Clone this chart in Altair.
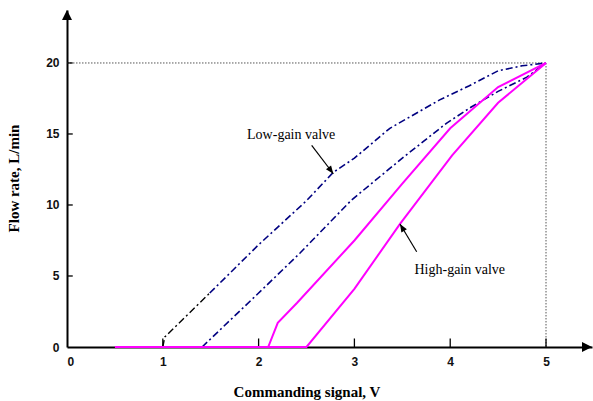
import altair as alt
import pandas as pd

# ---- data ----
x_tick_values = [0, 1, 2, 3, 4, 5]
y_tick_values = [0, 5, 10, 15, 20]
X_MAX = 5.48
Y_MAX = 23.73

# low-gain valve, upper branch (first part drawn black, rest navy)
low_up_start_x = [1.0, 1.02, 1.49]
low_up_start_y = [0.0, 0.7, 3.8]
low_up_x = [1.49, 2.0, 2.5, 2.78, 3.0, 3.37, 3.89, 4.2, 4.5, 4.75, 5.0]
low_up_y = [3.8, 7.2, 10.3, 12.3, 13.3, 15.4, 17.4, 18.4, 19.45, 19.8, 20.0]

# low-gain valve, lower branch
low_dn_x = [1.41, 2.0, 2.43, 2.97, 3.5, 3.96, 4.22, 4.5, 4.8, 5.0]
low_dn_y = [0.0, 3.8, 6.6, 10.35, 13.3, 15.75, 16.9, 18.0, 19.0, 20.0]

# high-gain valve, upper branch
high_up_x = [0.5, 2.1, 2.2, 2.4, 3.0, 3.5, 4.0, 4.5, 5.0]
high_up_y = [0.0, 0.0, 1.7, 3.1, 7.5, 11.5, 15.4, 18.3, 20.0]

# high-gain valve, lower branch
high_dn_x = [2.1, 2.5, 3.0, 3.48, 4.02, 4.5, 5.0]
high_dn_y = [0.0, 0.0, 4.1, 8.7, 13.5, 17.2, 20.0]

# reference (rated) point
ref_x = 5.0
ref_y = 20.0

# annotations
labels = ["Low-gain valve", "High-gain valve"]
label_x = [2.34, 4.10]
label_y = [14.93, 5.42]
arrow_x1 = [2.554, 3.65]
arrow_y1 = [14.2, 6.71]
arrow_x2 = [2.78, 3.476]
arrow_y2 = [12.2, 8.66]
arrow_angle = [143, 329]

# ---- scales / axes ----
xs = alt.Scale(domain=[0, X_MAX], nice=False, zero=False)
ys = alt.Scale(domain=[0, Y_MAX], nice=False, zero=False)

x_axis = alt.Axis(
    values=x_tick_values, ticks=False, grid=False, domain=True,
    domainColor="black", domainWidth=2, labelFont="Liberation Sans",
    labelFontSize=12, labelFontWeight="bold", labelColor="#111111", labelPadding=9,
    title="Commanding signal, V", titleFont="Liberation Serif",
    titleFontSize=15, titleFontWeight="bold", titleColor="black",
    titleX=239.5, titleY=44, titleBaseline="middle", titleAlign="center",
)
y_axis = alt.Axis(
    values=y_tick_values, ticks=False, grid=False, domain=True,
    domainColor="black", domainWidth=2, labelFont="Liberation Sans",
    labelFontSize=12, labelFontWeight="bold", labelColor="#111111", labelPadding=8,
    title="Flow rate, L/min", titleFont="Liberation Serif",
    titleFontSize=15, titleFontWeight="bold", titleColor="black",
    titleX=-54, titleY=168, titleAngle=270, titleBaseline="middle",
    titleAlign="center",
)


def X(field="x"):
    return alt.X(f"{field}:Q", scale=xs, axis=x_axis)


def Y(field="y"):
    return alt.Y(f"{field}:Q", scale=ys, axis=y_axis)


def line(xv, yv, color, width, dash=None):
    df = pd.DataFrame({"x": xv, "y": yv, "i": list(range(len(xv)))})
    kw = dict(color=color, strokeWidth=width)
    if dash is not None:
        kw["strokeDash"] = dash
    return alt.Chart(df).mark_line(**kw).encode(x=X(), y=Y(), order="i:Q")


layers = []

# dotted guide lines to the rated point
guide = pd.DataFrame({"x": [0, ref_x], "y": [ref_y, ref_y],
                      "x2": [ref_x, ref_x], "y2": [ref_y, 0]})
layers.append(
    alt.Chart(guide).mark_rule(color="#555555", strokeWidth=1, strokeDash=[1.5, 1.5])
    .encode(x=X(), y=Y(), x2="x2:Q", y2="y2:Q")
)

# inward tick marks
xt = pd.DataFrame({"x": x_tick_values[1:], "y": [0] * 5, "y2": [0.6] * 5})
layers.append(
    alt.Chart(xt).mark_rule(color="black", strokeWidth=1.3)
    .encode(x=X(), y=Y(), y2="y2:Q")
)
yt = pd.DataFrame({"x": [0] * 4, "x2": [0.06] * 4, "y": y_tick_values[1:]})
layers.append(
    alt.Chart(yt).mark_rule(color="black", strokeWidth=1.3)
    .encode(x=X(), x2="x2:Q", y=Y())
)

# curves
navy_dash = [7, 3, 2, 3]
layers.append(line(low_up_start_x, low_up_start_y, "black", 1.4, navy_dash))
layers.append(line(low_up_x, low_up_y, "#000080", 1.6, navy_dash))
layers.append(line(low_dn_x, low_dn_y, "#000080", 1.6, navy_dash))
layers.append(line(high_up_x, high_up_y, "#FF00FF", 2))
layers.append(line(high_dn_x, high_dn_y, "#FF00FF", 2))

# axis arrowheads
axis_head = "M0,0L-0.5,1L0.5,1Z"
ax_heads = pd.DataFrame({"x": [0, X_MAX], "y": [Y_MAX, 0], "a": [0, 90]})
layers.append(
    alt.Chart(ax_heads).mark_point(shape=axis_head, filled=True, color="black",
                                   size=400, opacity=1, strokeWidth=0)
    .encode(x=X(), y=Y(), angle=alt.Angle("a:Q", scale=None))
)

# annotation arrows
ann = pd.DataFrame({"x": arrow_x1, "y": arrow_y1, "x2": arrow_x2,
                    "y2": arrow_y2, "a": arrow_angle})
layers.append(
    alt.Chart(ann).mark_rule(color="black", strokeWidth=1.2)
    .encode(x=X(), y=Y(), x2="x2:Q", y2="y2:Q")
)
ann_head = "M0,0L-0.4,1L0.4,1Z"
heads = pd.DataFrame({"x": arrow_x2, "y": arrow_y2, "a": arrow_angle})
layers.append(
    alt.Chart(heads).mark_point(shape=ann_head, filled=True, color="black",
                                size=256, opacity=1, strokeWidth=0)
    .encode(x=X(), y=Y(), angle=alt.Angle("a:Q", scale=None))
)

# annotation labels
txt = pd.DataFrame({"x": label_x, "y": label_y, "t": labels})
layers.append(
    alt.Chart(txt).mark_text(font="Liberation Serif", fontSize=14, color="black",
                             align="center", baseline="middle")
    .encode(x=X(), y=Y(), text="t:N")
)

chart = alt.layer(*layers).properties(
    width=525, height=337,
    autosize=alt.AutoSizeParams(type="none"),
    padding={"left": 67, "top": 10, "right": 1, "bottom": 54},
    background="white",
).configure_view(stroke=None)

chart.save("out.html", embed_options={"renderer": "svg", "actions": False})
